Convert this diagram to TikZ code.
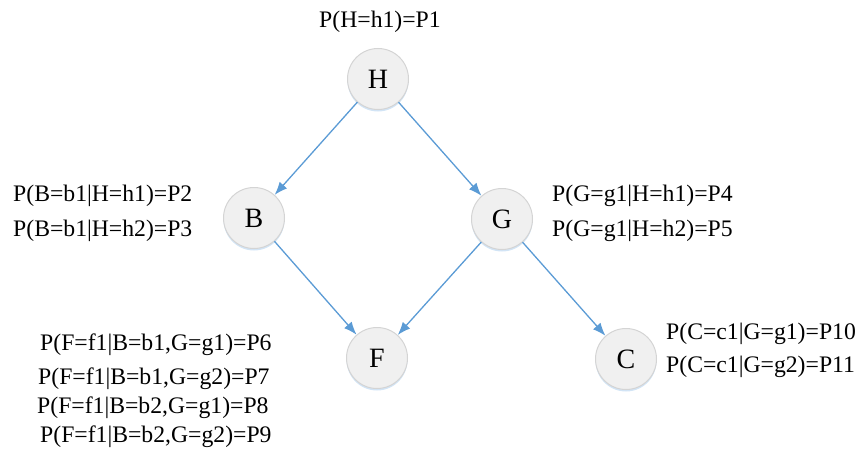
\documentclass[tikz,border=0pt]{standalone}
\usepackage{fontspec}
\setmainfont{Liberation Serif}
\usetikzlibrary{arrows.meta,shadows}
\definecolor{edgeblue}{RGB}{91,155,213}
\definecolor{nodegray}{RGB}{240,240,240}
\definecolor{rimgray}{RGB}{212,212,212}
\definecolor{glowblue}{RGB}{205,225,244}

\begin{document}
\begin{tikzpicture}[x=1pt, y=-1pt,
    var/.style={circle, draw=rimgray, fill=nodegray, line width=1pt, minimum size=61pt, inner sep=0pt,
        font=\fontsize{28}{30}\selectfont,
        drop shadow={shadow xshift=0pt, shadow yshift=-2pt, fill=glowblue, opacity=0.9}},
    prob/.style={anchor=west, inner sep=0pt, font=\fontsize{23.7}{26}\selectfont},
    edge/.style={draw=edgeblue, line width=1.3pt, -{Latex[length=13pt,width=10pt]}}]
            \useasboundingbox (0,0) rectangle (862,452);

            \node[var] (H) at (378,79) {H};
            \node[var] (B) at (254,218) {B};
            \node[var] (G) at (502,219) {G};
            \node[var] (F) at (377,358) {F};
            \node[var] (C) at (626,359) {C};

            \draw[edge] (H) -- (B);
            \draw[edge] (H) -- (G);
            \draw[edge] (B) -- (F);
            \draw[edge] (G) -- (F);
            \draw[edge] (G) -- (C);

            \node[prob, anchor=center] (pH) at (380,22) {P(H=h1)=P1};

            \node[prob] (pB1) at (13,196) {P(B=b1|H=h1)=P2};
            \node[prob] (pB2) at (13,231) {P(B=b1|H=h2)=P3};

            \node[prob] (pG1) at (552,196) {P(G=g1|H=h1)=P4};
            \node[prob] (pG2) at (552,231) {P(G=g1|H=h2)=P5};

            \node[prob] (pF1) at (40,345) {P(F=f1|B=b1,G=g1)=P6};
            \node[prob] (pF2) at (38,379) {P(F=f1|B=b1,G=g2)=P7};
            \node[prob] (pF3) at (37,408) {P(F=f1|B=b2,G=g1)=P8};
            \node[prob] (pF4) at (40,437) {P(F=f1|B=b2,G=g2)=P9};

            \node[prob] (pC1) at (666,334) {P(C=c1|G=g1)=P10};
            \node[prob] (pC2) at (666,367) {P(C=c1|G=g2)=P11};
        \end{tikzpicture}
\end{document}
